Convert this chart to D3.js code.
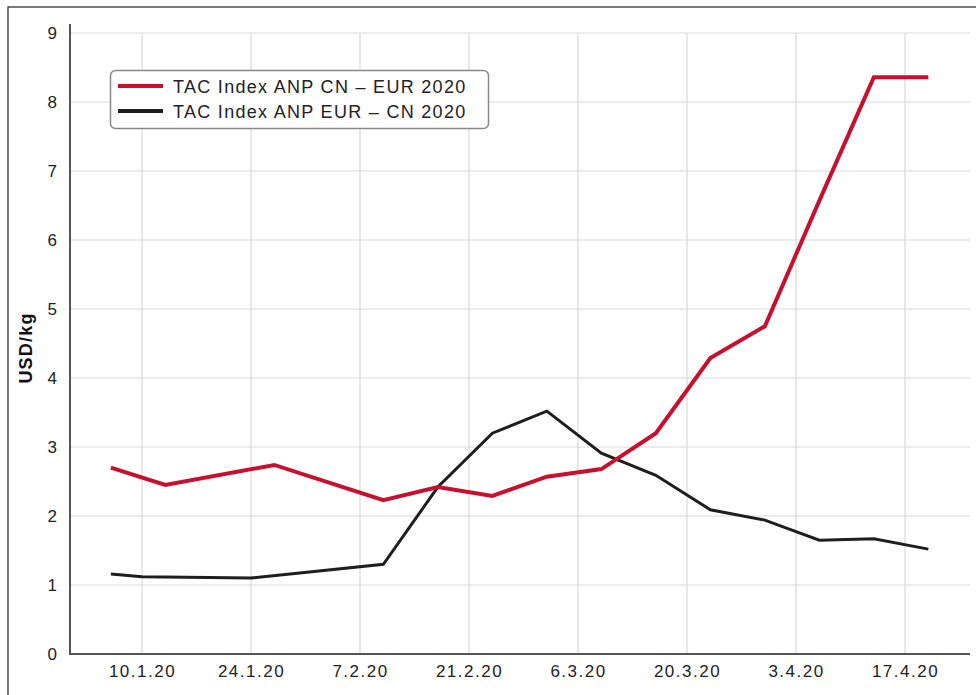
<!DOCTYPE html>
<html>
<head>
<meta charset="utf-8">
<script src="https://cdn.jsdelivr.net/npm/d3@7"></script>
<style>
  body { margin: 0; background: #fff; }
  svg { display: block; font-family: "Liberation Sans", Arial, sans-serif; }
</style>
</head>
<body>
<div id="viz"></div>
<script>
(function() {
  var parse = d3.timeParse("%Y-%m-%d");

  // red series: TAC Index ANP CN - EUR 2020
  var redDates = ["2020-01-06", "2020-01-13", "2020-01-27", "2020-02-10", "2020-02-17", "2020-02-24", "2020-03-02", "2020-03-09", "2020-03-16", "2020-03-23", "2020-03-30", "2020-04-06", "2020-04-13", "2020-04-20"];
  var redValues = [2.70, 2.45, 2.74, 2.23, 2.42, 2.29, 2.57, 2.68, 3.20, 4.29, 4.75, 6.57, 8.36, 8.36];

  // black series: TAC Index ANP EUR - CN 2020
  var blackDates = ["2020-01-06", "2020-01-10", "2020-01-24", "2020-02-10", "2020-02-17", "2020-02-24", "2020-03-02", "2020-03-09", "2020-03-16", "2020-03-23", "2020-03-30", "2020-04-06", "2020-04-13", "2020-04-20"];
  var blackValues = [1.16, 1.12, 1.10, 1.30, 2.42, 3.20, 3.52, 2.91, 2.59, 2.09, 1.94, 1.65, 1.67, 1.52];

  var tickDates = ["2020-01-10", "2020-01-24", "2020-02-07", "2020-02-21", "2020-03-06", "2020-03-20", "2020-04-03", "2020-04-17"];
  var yTicks = [0, 1, 2, 3, 4, 5, 6, 7, 8, 9];
  var seriesNames = ["TAC Index ANP CN \u2013 EUR 2020", "TAC Index ANP EUR \u2013 CN 2020"];
  var seriesColors = ["#c8102e", "#1e1e1e"];

  var width = 976, height = 695;
  var left = 70, right = 970, top = 33, bottom = 654;

  var svg = d3.select("#viz").append("svg").attr("width", width).attr("height", height);

  // outer frame
  svg.append("rect").attr("x", 8).attr("y", 7).attr("width", 990).attr("height", 720)
    .attr("fill", "none").attr("stroke", "#333").attr("stroke-width", 1.3);

  var x = d3.scaleTime()
    .domain([parse("2020-01-10"), parse("2020-04-17")])
    .range([142, 905]);
  var y = d3.scaleLinear().domain([0, 9]).range([bottom, top]);

  // grid
  svg.append("g").selectAll("line").data(yTicks.slice(1)).enter().append("line")
    .attr("x1", left).attr("x2", right)
    .attr("y1", function(d) { return y(d); }).attr("y2", function(d) { return y(d); })
    .attr("stroke", "#d9d9d9").attr("stroke-width", 1.2);
  svg.append("g").selectAll("line").data(tickDates).enter().append("line")
    .attr("x1", function(d) { return x(parse(d)); }).attr("x2", function(d) { return x(parse(d)); })
    .attr("y1", top).attr("y2", bottom)
    .attr("stroke", "#d9d9d9").attr("stroke-width", 1.2);

  // axes
  var yAxis = svg.append("g").attr("transform", "translate(" + left + ",0)")
    .call(d3.axisLeft(y).tickValues(yTicks).tickSize(0).tickPadding(13).tickFormat(d3.format("d")));
  yAxis.select(".domain").remove();
  yAxis.selectAll("text").attr("font-size", 17).attr("fill", "#222")
    .attr("font-family", "Liberation Sans, Arial, sans-serif");

  var xAxis = svg.append("g").attr("transform", "translate(0," + bottom + ")")
    .call(d3.axisBottom(x).tickValues(tickDates.map(parse)).tickSize(0).tickPadding(11).tickFormat(d3.timeFormat("%-d.%-m.%y")));
  xAxis.select(".domain").remove();
  xAxis.selectAll("text").attr("font-size", 17).attr("fill", "#222").attr("letter-spacing", 1.5)
    .attr("font-family", "Liberation Sans, Arial, sans-serif");

  svg.append("line").attr("x1", left).attr("x2", left).attr("y1", 24).attr("y2", bottom + 1)
    .attr("stroke", "#555").attr("stroke-width", 2);
  svg.append("line").attr("x1", left).attr("x2", right).attr("y1", bottom).attr("y2", bottom)
    .attr("stroke", "#555").attr("stroke-width", 2);

  svg.append("text").attr("transform", "translate(32,348) rotate(-90)")
    .attr("text-anchor", "middle").attr("font-size", 18).attr("font-weight", "bold")
    .attr("letter-spacing", 1.2).attr("fill", "#111").text("USD/kg");

  // lines
  var line = d3.line()
    .x(function(d) { return x(d.date); })
    .y(function(d) { return y(d.value); });

  var series = [
    redDates.map(function(d, i) { return { date: parse(d), value: redValues[i] }; }),
    blackDates.map(function(d, i) { return { date: parse(d), value: blackValues[i] }; })
  ];
  var widths = [4, 3];

  [1, 0].forEach(function(i) {
    svg.append("path").datum(series[i])
      .attr("fill", "none").attr("stroke", seriesColors[i]).attr("stroke-width", widths[i])
      .attr("stroke-linejoin", "miter").attr("d", line);
  });

  // legend
  var lg = svg.append("g");
  lg.append("rect").attr("x", 110.5).attr("y", 70.5).attr("width", 378).attr("height", 58)
    .attr("rx", 5).attr("fill", "#fff").attr("stroke", "#888").attr("stroke-width", 1.5);
  seriesNames.forEach(function(name, i) {
    var ly = 86 + i * 25;
    lg.append("line").attr("x1", 118).attr("x2", 163).attr("y1", ly).attr("y2", ly)
      .attr("stroke", seriesColors[i]).attr("stroke-width", 4);
    lg.append("text").attr("x", 173).attr("y", ly + 7).attr("font-size", 18)
      .attr("letter-spacing", 1.3).attr("fill", "#222").text(name);
  });
})();
</script>
</body>
</html>
